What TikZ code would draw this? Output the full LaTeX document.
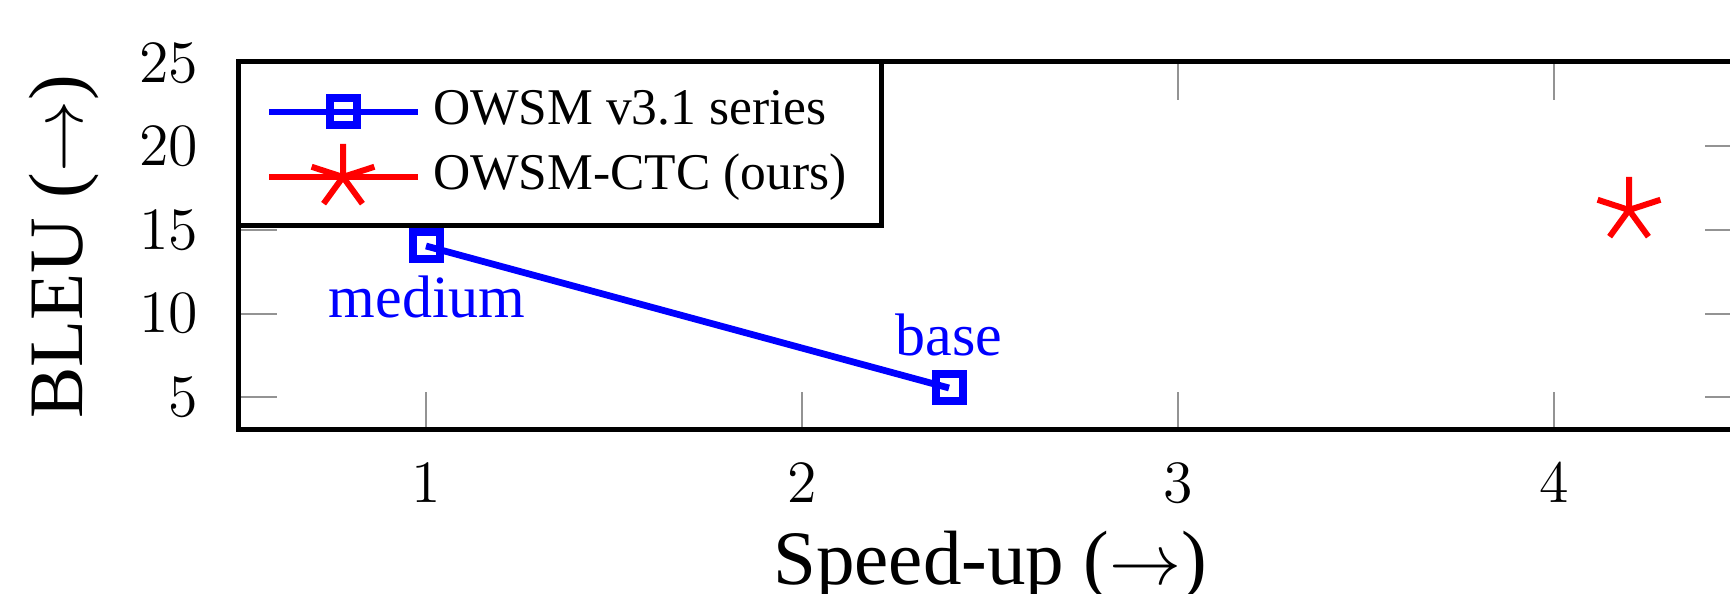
\documentclass[tikz,border=0pt]{standalone}
\usepackage[no-math]{fontspec}
\setmainfont{Liberation Serif}
\tikzset{
  axtick/.style={gray!85, line width=0.4pt},
  frameline/.style={black, line width=1pt},
  series/.style={blue, line width=1.35pt},
  sqmark/.style={blue, line width=1.6pt},
  starmark/.style={red, line width=1.2pt},
  ticklab/.style={inner sep=0pt, font=\fontsize{12}{14}\selectfont},
  axlab/.style={inner sep=0pt, font=\fontsize{15.4}{18}\selectfont},
  ptlab/.style={inner sep=0pt, text=blue, font=\fontsize{12}{14}\selectfont},
  leglab/.style={inner sep=0pt, anchor=base west, font=\fontsize{10.3}{12}\selectfont},
  sqm/.pic={\draw[sqmark] (-13.5,-13.5) rectangle (13.5,13.5);},
  stm/.pic={\draw[starmark] (0,0)--(0,-33) (0,0)--(31.4,-10.2) (0,0)--(-31.4,-10.2) (0,0)--(-19.4,26.7) (0,0)--(19.4,26.7);}
}
\begin{document}
\begin{tikzpicture}[x=0.2pt,y=-0.2pt]
\clip (0,0) rectangle (1730,594);
% ticks
\foreach \x in {426,802,1178,1554} {
  \draw[axtick] (\x,430) -- (\x,392);
  \draw[axtick] (\x,62) -- (\x,100);
}
\foreach \y in {397,313.6,230,146.5} {
  \draw[axtick] (238,\y) -- (277,\y);
  \draw[axtick] (1744,\y) -- (1705,\y);
}
% frame
\draw[frameline] (238,62) rectangle (1744,430);
% tick labels
\foreach \v/\y in {5/397,10/313.6,15/230,20/146.5,25/63}
  \node[ticklab, anchor=east] (yl\v) at (199,\y) {$\v$};
\foreach \v/\x in {1/426,2/802,3/1178,4/1554}
  \node[ticklab, anchor=base] (xl\v) at (\x,503) {$\v$};
% axis labels
\node[axlab, anchor=base] (xlabel) at (990,585) {Speed-up ($\rightarrow$)};
\node[axlab, anchor=base, rotate=90] (ylabel) at (82,247) {BLEU ($\rightarrow$)};
% data
\coordinate (medium) at (426,246);
\coordinate (base) at (949,388);
\coordinate (ctc) at (1629,210);
\draw[series] (medium) -- (base);
\pic at (medium) {sqm};
\pic at (base) {sqm};
\pic at (ctc) {stm};
\node[ptlab, anchor=base] (lmedium) at (427,318) {medium};
\node[ptlab, anchor=base] (lbase) at (949,356) {base};
% legend
\draw[frameline, fill=white] (238,62) rectangle (881,226);
\coordinate (l1a) at (269,112);
\coordinate (l1b) at (418,112);
\coordinate (l1m) at (343,112);
\coordinate (l2a) at (269,177);
\coordinate (l2b) at (418,177);
\coordinate (l2m) at (343,177);
\draw[series] (l1a) -- (l1b);
\pic at (l1m) {sqm};
\draw[red, line width=1.35pt] (l2a) -- (l2b);
\pic at (l2m) {stm};
\node[leglab] (leg1) at (432,125) {OWSM v3.1 series};
\node[leglab] (leg2) at (432,190) {OWSM-CTC (ours)};
\end{tikzpicture}
\end{document}
